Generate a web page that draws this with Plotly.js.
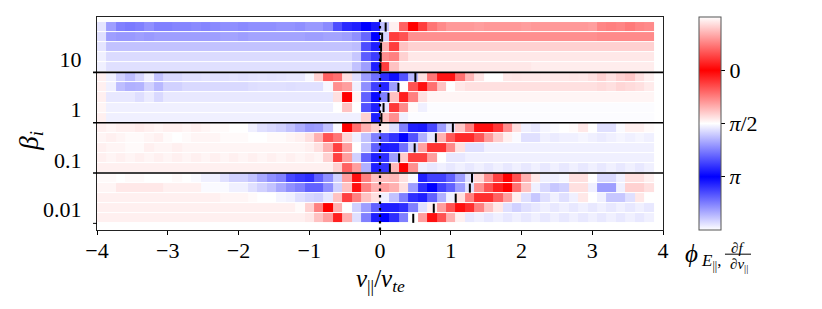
<!DOCTYPE html>
<html>
<head>
<meta charset="utf-8">
<script src="https://cdn.plot.ly/plotly-3.0.1.min.js"></script>
<style>
html,body{margin:0;padding:0;background:#ffffff;}
#chart{width:822px;height:309px;}
</style>
</head>
<body>
<div id="chart"></div>
<script>
// velocity grid (cell centres, v_par / v_te)
const vPar = [-3.933,-3.8,-3.667,-3.533,-3.4,-3.267,-3.133,-3.0,-2.867,-2.733,-2.6,-2.467,-2.333,-2.2,-2.067,-1.933,-1.8,-1.667,-1.533,-1.4,-1.267,-1.133,-1.0,-0.867,-0.733,-0.6,-0.467,-0.333,-0.2,-0.067,0.067,0.2,0.333,0.467,0.6,0.733,0.867,1.0,1.133,1.267,1.4,1.533,1.667,1.8,1.933,2.067,2.2,2.333,2.467,2.6,2.733,2.867,3.0,3.133,3.267,3.4,3.533,3.667,3.8];

const betaLabels = ["10", "1", "0.1", "0.01"];

// phase phi (in units of pi), 5 rows per beta block, listed top -> bottom
const phaseBeta10 = [
 [0.55,0.69,0.75,0.76,0.75,0.72,0.75,0.75,0.74,0.74,0.73,0.74,0.73,0.72,0.72,0.73,0.72,0.72,0.72,0.71,0.71,0.72,0.70,0.70,0.73,0.85,0.92,0.94,1.00,0.95,0.62,0.47,0.19,0.00,0.12,0.23,0.27,0.30,0.30,0.30,0.31,0.30,0.30,0.30,0.30,0.31,0.30,0.30,0.30,0.30,0.30,0.30,0.31,0.26,0.25,0.26,0.24,0.26,0.27],
 [0.56,0.69,0.70,0.70,0.69,0.70,0.69,0.69,0.69,0.69,0.69,0.69,0.69,0.68,0.68,0.69,0.68,0.68,0.68,0.68,0.68,0.68,0.69,0.69,0.68,0.68,0.69,0.72,0.80,1.00,0.58,0.12,0.16,0.28,0.28,0.28,0.28,0.28,0.28,0.28,0.28,0.28,0.28,0.28,0.28,0.28,0.28,0.28,0.28,0.28,0.28,0.28,0.28,0.27,0.27,0.27,0.27,0.27,0.27],
 [0.55,0.62,0.62,0.62,0.62,0.62,0.62,0.62,0.62,0.62,0.62,0.62,0.62,0.62,0.62,0.62,0.62,0.62,0.62,0.62,0.62,0.62,0.62,0.62,0.62,0.62,0.62,0.63,0.85,0.94,0.35,0.12,0.38,0.41,0.41,0.41,0.41,0.41,0.41,0.41,0.41,0.41,0.41,0.41,0.41,0.41,0.41,0.41,0.41,0.41,0.41,0.41,0.41,0.41,0.41,0.41,0.41,0.41,0.41],
 [0.53,0.57,0.57,0.57,0.57,0.57,0.57,0.57,0.57,0.57,0.57,0.57,0.57,0.57,0.57,0.57,0.57,0.57,0.57,0.57,0.57,0.57,0.57,0.57,0.57,0.57,0.57,0.61,0.82,0.88,0.28,0.25,0.41,0.455,0.455,0.455,0.455,0.455,0.455,0.455,0.455,0.455,0.455,0.455,0.455,0.455,0.455,0.455,0.455,0.455,0.455,0.455,0.455,0.455,0.455,0.455,0.455,0.455,0.455],
 [0.53,0.56,0.56,0.56,0.56,0.56,0.56,0.56,0.56,0.56,0.56,0.56,0.56,0.56,0.56,0.56,0.56,0.56,0.56,0.56,0.56,0.56,0.56,0.56,0.56,0.56,0.56,0.62,0.69,0.94,0.12,0.38,0.455,0.455,0.455,0.455,0.455,0.455,0.455,0.455,0.455,0.455,0.455,0.455,0.455,0.455,0.465,0.465,0.465,0.465,0.465,0.465,0.465,0.465,0.465,0.465,0.465,0.465,0.465]
];
const phaseBeta1 = [
 [0.47,0.53,0.59,0.63,0.58,0.53,0.62,0.575,0.575,0.56,0.56,0.555,0.56,0.56,0.555,0.56,0.555,0.55,0.555,0.55,0.545,0.545,0.515,0.41,0.19,0.22,0.44,0.56,0.69,0.78,0.91,0.97,0.84,0.64,0.44,0.23,0.04,0.04,0.22,0.36,0.45,0.50,0.50,0.455,0.45,0.455,0.455,0.46,0.455,0.455,0.45,0.455,0.44,0.41,0.44,0.41,0.39,0.44,0.47],
 [0.47,0.53,0.63,0.655,0.65,0.59,0.64,0.59,0.59,0.575,0.575,0.575,0.575,0.575,0.575,0.575,0.565,0.56,0.56,0.56,0.565,0.56,0.56,0.56,0.515,0.28,0.31,0.53,0.72,0.875,0.93,0.69,0.50,0.16,0.03,0.22,0.38,0.50,0.455,0.44,0.44,0.44,0.44,0.44,0.44,0.44,0.44,0.44,0.44,0.44,0.44,0.44,0.44,0.43,0.44,0.42,0.43,0.44,0.46],
 [0.47,0.545,0.545,0.545,0.565,0.54,0.575,0.545,0.545,0.545,0.545,0.545,0.545,0.545,0.545,0.545,0.545,0.545,0.545,0.545,0.545,0.545,0.545,0.545,0.545,0.44,0.00,0.48,0.81,0.98,0.75,0.38,0.06,0.25,0.44,0.48,0.48,0.48,0.48,0.48,0.48,0.48,0.48,0.48,0.48,0.48,0.48,0.48,0.48,0.48,0.48,0.48,0.48,0.48,0.48,0.48,0.48,0.48,0.48],
 [0.48,0.53,0.53,0.53,0.53,0.53,0.53,0.53,0.53,0.53,0.53,0.53,0.53,0.53,0.53,0.53,0.53,0.53,0.53,0.53,0.53,0.53,0.53,0.53,0.53,0.50,0.38,0.50,0.84,0.94,0.55,0.11,0.27,0.49,0.53,0.505,0.505,0.505,0.505,0.505,0.505,0.505,0.505,0.505,0.505,0.505,0.505,0.505,0.505,0.505,0.505,0.505,0.505,0.505,0.505,0.505,0.505,0.505,0.505],
 [0.47,0.53,0.53,0.53,0.53,0.53,0.53,0.53,0.53,0.53,0.53,0.53,0.53,0.53,0.53,0.53,0.53,0.53,0.53,0.53,0.53,0.53,0.53,0.53,0.53,0.53,0.53,0.53,0.41,0.94,0.38,0.28,0.53,0.505,0.505,0.505,0.505,0.505,0.505,0.505,0.505,0.505,0.505,0.505,0.505,0.505,0.505,0.505,0.505,0.505,0.505,0.505,0.505,0.505,0.505,0.505,0.505,0.505,0.505]
];
const phaseBeta01 = [
 [0.47,0.48,0.47,0.47,0.46,0.47,0.48,0.47,0.47,0.48,0.47,0.48,0.49,0.49,0.50,0.50,0.53,0.56,0.575,0.59,0.62,0.66,0.70,0.69,0.62,0.51,0.00,0.22,0.345,0.41,0.47,0.56,0.75,0.94,0.95,0.86,0.69,0.56,0.39,0.25,0.03,0.03,0.11,0.28,0.44,0.53,0.545,0.52,0.51,0.50,0.49,0.455,0.50,0.56,0.56,0.51,0.47,0.47,0.49],
 [0.48,0.47,0.48,0.49,0.49,0.48,0.47,0.49,0.50,0.49,0.48,0.48,0.48,0.49,0.49,0.49,0.50,0.50,0.49,0.49,0.48,0.47,0.44,0.345,0.16,0.23,0.42,0.53,0.62,0.75,0.84,0.90,1.00,0.84,0.655,0.545,0.35,0.17,0.08,0.08,0.17,0.30,0.40,0.47,0.51,0.56,0.56,0.53,0.54,0.53,0.53,0.52,0.53,0.54,0.53,0.52,0.53,0.52,0.53],
 [0.47,0.48,0.48,0.49,0.49,0.47,0.48,0.48,0.47,0.48,0.48,0.48,0.48,0.48,0.48,0.48,0.48,0.48,0.48,0.48,0.48,0.48,0.47,0.44,0.345,0.125,0.31,0.50,0.62,0.81,0.95,0.94,0.78,0.59,0.32,0.10,0.10,0.27,0.44,0.56,0.56,0.53,0.53,0.53,0.53,0.53,0.53,0.53,0.53,0.53,0.53,0.53,0.53,0.53,0.53,0.53,0.53,0.53,0.53],
 [0.47,0.48,0.47,0.48,0.47,0.48,0.47,0.48,0.47,0.48,0.47,0.48,0.47,0.48,0.47,0.48,0.47,0.48,0.47,0.48,0.47,0.48,0.47,0.48,0.41,0.125,0.31,0.59,0.81,0.94,0.91,0.69,0.40,0.125,0.125,0.31,0.50,0.545,0.545,0.53,0.53,0.53,0.53,0.53,0.53,0.53,0.53,0.53,0.53,0.53,0.53,0.53,0.53,0.53,0.53,0.53,0.53,0.53,0.53],
 [0.47,0.47,0.47,0.47,0.47,0.47,0.47,0.47,0.47,0.47,0.47,0.47,0.47,0.47,0.47,0.47,0.47,0.47,0.47,0.47,0.47,0.47,0.47,0.47,0.47,0.41,0.19,0.31,0.655,0.94,0.90,0.36,0.00,0.28,0.53,0.545,0.53,0.545,0.53,0.545,0.53,0.545,0.53,0.545,0.53,0.545,0.53,0.545,0.53,0.545,0.53,0.545,0.53,0.545,0.53,0.545,0.53,0.545,0.53]
];
const phaseBeta001 = [
 [0.49,0.49,0.50,0.49,0.49,0.50,0.50,0.50,0.49,0.50,0.51,0.53,0.53,0.56,0.59,0.59,0.62,0.67,0.72,0.75,0.86,0.89,0.91,0.81,0.72,0.59,0.31,0.03,0.25,0.38,0.37,0.36,0.44,0.51,0.94,0.875,0.875,0.81,0.69,0.56,0.42,0.28,0.125,0.00,0.16,0.345,0.455,0.53,0.53,0.515,0.44,0.44,0.50,0.575,0.575,0.53,0.44,0.44,0.47],
 [0.48,0.48,0.455,0.455,0.455,0.455,0.455,0.47,0.47,0.47,0.47,0.51,0.51,0.51,0.53,0.53,0.56,0.59,0.62,0.67,0.72,0.75,0.81,0.81,0.72,0.59,0.38,0.03,0.25,0.345,0.31,0.345,0.44,0.69,0.91,1.00,0.875,0.81,0.69,0.56,0.28,0.16,0.06,0.00,0.22,0.38,0.53,0.575,0.61,0.59,0.44,0.44,0.53,0.69,0.69,0.53,0.41,0.41,0.44],
 [0.47,0.47,0.47,0.47,0.47,0.47,0.47,0.47,0.47,0.47,0.47,0.47,0.47,0.48,0.48,0.48,0.49,0.50,0.50,0.52,0.53,0.56,0.58,0.59,0.545,0.38,0.125,0.25,0.38,0.44,0.53,0.62,0.75,0.91,0.94,0.81,0.655,0.53,0.44,0.25,0.09,0.09,0.19,0.31,0.47,0.56,0.61,0.56,0.53,0.56,0.53,0.455,0.50,0.53,0.61,0.61,0.56,0.455,0.50],
 [0.47,0.47,0.47,0.47,0.47,0.47,0.47,0.47,0.47,0.47,0.47,0.47,0.47,0.47,0.47,0.47,0.47,0.47,0.47,0.47,0.47,0.49,0.41,0.25,0.00,0.345,0.50,0.59,0.69,0.81,0.94,0.94,0.91,0.75,0.56,0.47,0.31,0.16,0.03,0.09,0.25,0.38,0.455,0.56,0.59,0.56,0.545,0.53,0.545,0.53,0.545,0.53,0.545,0.53,0.545,0.53,0.545,0.53,0.545],
 [0.47,0.47,0.47,0.47,0.47,0.47,0.47,0.47,0.47,0.47,0.47,0.47,0.47,0.47,0.47,0.47,0.47,0.47,0.47,0.47,0.47,0.47,0.455,0.38,0.31,0.06,0.345,0.56,0.75,0.94,1.00,0.91,0.75,0.50,0.31,0.03,0.16,0.345,0.47,0.545,0.53,0.545,0.53,0.545,0.53,0.545,0.53,0.545,0.53,0.545,0.53,0.545,0.53,0.545,0.53,0.545,0.53,0.545,0.53]
];

// black marker positions (v_par / v_te) for each row, top -> bottom
const markerBeta10  = [0.08, 0.03, 0.015, 0.01, 0.005];
const markerBeta1   = [0.50, 0.26, 0.12, 0.05, 0.02];
const markerBeta01  = [1.03, 0.79, 0.49, 0.27, 0.14];
const markerBeta001 = [1.30, 1.27, 1.07, 0.76, 0.47];

// ---------- build ----------
const blocks = [phaseBeta10, phaseBeta1, phaseBeta01, phaseBeta001];
const markers = [markerBeta10, markerBeta1, markerBeta01, markerBeta001];
const nB = blocks.length, nR = 5;
const yIdx = [], zRows = [];
for (let i = 0; i < nB * nR; i++) { yIdx.push(i); zRows.push(null); }
const mx = [], my = [];
blocks.forEach((blk, b) => {
  blk.forEach((row, r) => {
    const y = (nB - 1 - b) * nR + (nR - 1 - r);
    zRows[y] = row.map(v => -v * Math.PI);   // negated so the colour bar reads 0 at top, pi below
    const m = markers[b][r];
    mx.push(m, m, null);
    my.push(y - 0.45, y + 0.45, null);
  });
});
const yMin = -1.16, yMax = 20.0;
const PI = Math.PI;
const serif = "'Liberation Serif', 'DejaVu Serif', serif";

const heat = {
  type: 'heatmap', x: vPar, y: yIdx, z: zRows,
  zmin: -1.5 * PI, zmax: 0.5 * PI,
  colorscale: [[0, '#ffffff'], [0.25, '#0000ff'], [0.5, '#ffffff'], [0.75, '#ff0000'], [1, '#ffffff']],
  ygap: 1, hoverinfo: 'skip',
  colorbar: {
    x: 1.0636, xanchor: 'left', xpad: 0, y: 0.5, yanchor: 'middle', ypad: 0,
    len: 1, lenmode: 'fraction', thickness: 22,
    outlinecolor: '#555', outlinewidth: 1,
    tickvals: [0, -PI / 2, -PI], ticktext: ['0', '<i>π</i>/2', '<i>π</i>'],
    ticks: 'outside', ticklen: 4, tickcolor: '#000',
    tickfont: { family: serif, size: 22, color: '#000' }
  }
};
const zeroLine = {
  type: 'scatter', mode: 'lines', x: [0, 0], y: [yMin, yMax],
  line: { color: '#000', width: 2.2, dash: '2.5px,4px' }, hoverinfo: 'skip', showlegend: false
};
const markTrace = {
  type: 'scatter', mode: 'lines', x: mx, y: my,
  line: { color: '#000', width: 2 }, hoverinfo: 'skip', showlegend: false
};

const shapes = [];
[14.5, 9.5, 4.5].forEach(yy => shapes.push({
  type: 'line', xref: 'paper', yref: 'y', x0: -0.007, x1: 1, y0: yy, y1: yy,
  line: { color: '#000', width: 1.6 }
}));
shapes.push({ type: 'line', xref: 'paper', yref: 'y', x0: -0.007, x1: 0, y0: -0.5, y1: -0.5, line: { color: '#000', width: 1 } });
// fraction bar of colour-bar label
shapes.push({ type: 'line', xref: 'paper', yref: 'paper', x0: 1.1095, x1: 1.1555, y0: -0.1135, y1: -0.1135, line: { color: '#000', width: 1 } });

const annotations = [
  { text: '<i>v</i><sub>||</sub>/<i>v</i><sub><i>te</i></sub>', xref: 'paper', yref: 'paper', x: 0.5, y: -0.235,
    xanchor: 'center', yanchor: 'middle', showarrow: false, font: { family: serif, size: 25, color: '#000' } },
  { text: '<i>β<sub>i</sub></i>', xref: 'paper', yref: 'paper', x: -0.118, y: 0.42, textangle: -90,
    xanchor: 'center', yanchor: 'middle', showarrow: false, font: { family: serif, size: 27, color: '#000' } },
  { text: '<i>ϕ</i>', xref: 'paper', yref: 'paper', x: 1.0495, y: -0.108,
    xanchor: 'center', yanchor: 'middle', showarrow: false, font: { family: serif, size: 25, color: '#000' } },
  { text: '<i>E</i><sub>||</sub>,', xref: 'paper', yref: 'paper', x: 1.085, y: -0.15,
    xanchor: 'center', yanchor: 'middle', showarrow: false, font: { family: serif, size: 17, color: '#000' } },
  { text: '<i>∂f</i>', xref: 'paper', yref: 'paper', x: 1.131, y: -0.083,
    xanchor: 'center', yanchor: 'middle', showarrow: false, font: { family: serif, size: 15, color: '#000' } },
  { text: '<i>∂v</i><sub>||</sub>', xref: 'paper', yref: 'paper', x: 1.134, y: -0.163,
    xanchor: 'center', yanchor: 'middle', showarrow: false, font: { family: serif, size: 15, color: '#000' } }
];

const layout = {
  width: 822, height: 309,
  margin: { l: 97, r: 159, t: 17, b: 79, pad: 0 },
  paper_bgcolor: '#ffffff', plot_bgcolor: '#ffffff',
  showlegend: false,
  font: { family: serif, color: '#000' },
  xaxis: {
    range: [-4, 4], tickvals: [-4, -3, -2, -1, 0, 1, 2, 3, 4],
    ticktext: ['−4', '−3', '−2', '−1', '0', '1', '2', '3', '4'],
    ticks: 'outside', ticklen: 4, tickcolor: '#000', tickwidth: 1,
    ticklabelstandoff: -4,
    showline: true, mirror: true, linecolor: '#222', linewidth: 1.2,
    showgrid: false, zeroline: false,
    tickfont: { family: serif, size: 22, color: '#000' }
  },
  yaxis: {
    range: [yMin, yMax], tickvals: [0.85, 5.8, 10.8, 15.8],
    ticktext: betaLabels.slice().reverse(),
    ticks: '', ticklabelstandoff: 10,
    showline: true, mirror: true, linecolor: '#222', linewidth: 1.2,
    showgrid: false, zeroline: false,
    tickfont: { family: serif, size: 22, color: '#000' }
  },
  shapes: shapes,
  annotations: annotations
};

Plotly.newPlot('chart', [heat, zeroLine, markTrace], layout, { displayModeBar: false, staticPlot: true });
</script>
</body>
</html>
